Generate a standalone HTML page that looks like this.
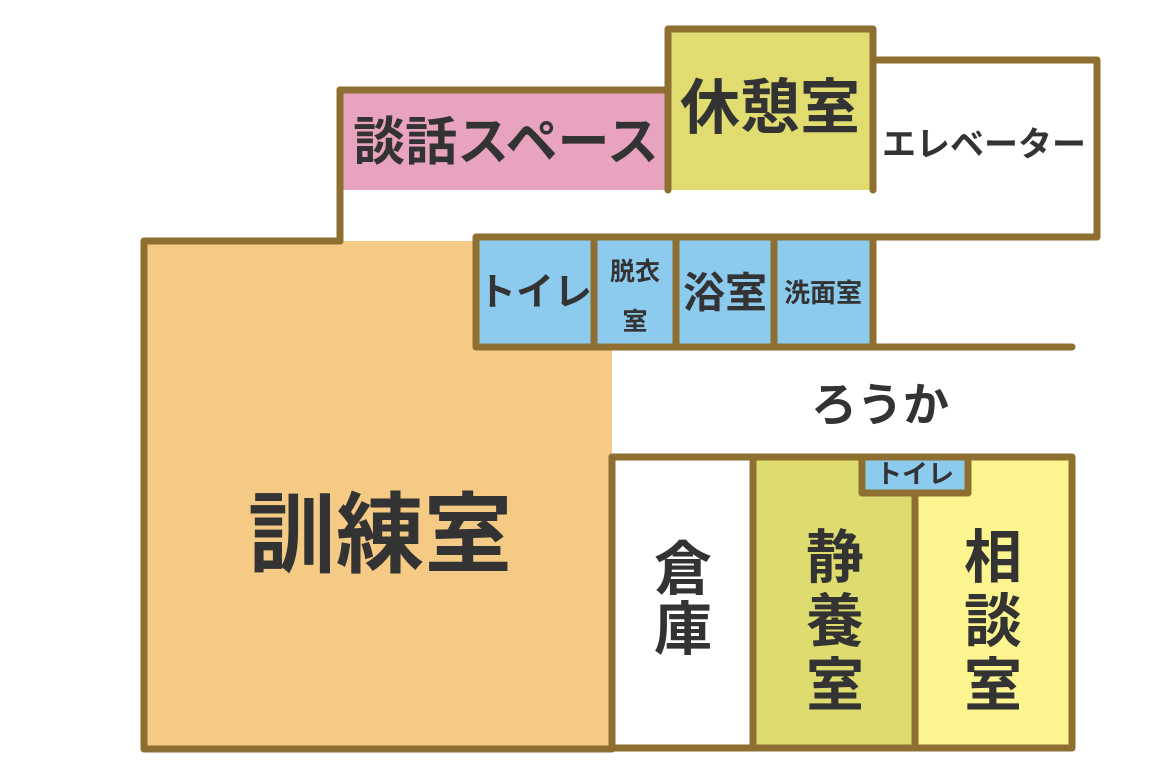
<!DOCTYPE html>
<html><head><meta charset="utf-8"><style>
html,body{margin:0;padding:0;background:#fff;}
svg{display:block}
text{font-family:"Liberation Sans","Noto Sans CJK JP",sans-serif;fill:#333;font-weight:bold;text-anchor:middle;dominant-baseline:central}
</style></head><body>
<svg width="1164" height="776" viewBox="0 0 1164 776" xmlns="http://www.w3.org/2000/svg">
<g stroke="#8e6f31" stroke-width="7" stroke-linejoin="round" stroke-linecap="round">
<rect x="144" y="241" width="468" height="508" fill="#f4ca84" stroke="none"/>
<path d="M612 457 L612 749 L144 749 L144 241 L340 241 L340 90 L668 90" fill="none"/>
<rect x="340" y="90" width="328" height="100" fill="#e8a3be" stroke="none"/>
<path d="M340 90 L668 90 M340 90 L340 241" fill="none"/>
<path d="M873 60 L1097 60 L1097 237 L873 237" fill="#fff"/>
<path d="M668 190 L668 29 L873 29 L873 190" fill="#e0dc70"/>
<rect x="476" y="237" width="397" height="110" fill="#8ccbee"/>
<path d="M594 237 V347 M676 237 V347 M774 237 V347 M873 347 H1072" fill="none"/>
<rect x="612" y="457" width="141" height="291" fill="#fff"/>
<rect x="753" y="457" width="162" height="291" fill="#dedc6f"/>
<rect x="915" y="457" width="157" height="291" fill="#fcf48f"/>
<rect x="862" y="457" width="106" height="36" fill="#8ccbee"/>
</g>
<text x="506" y="143" font-size="52">談話スペース</text>
<text x="770" y="108" font-size="60">休憩室</text>
<text x="984" y="145" font-size="34">エレベーター</text>
<text x="535" y="293" font-size="38">トイレ</text>
<text x="635" y="272" font-size="25">脱衣</text>
<text x="635" y="322" font-size="25">室</text>
<text x="725" y="293" font-size="42">浴室</text>
<text x="823" y="293" font-size="26">洗面室</text>
<text x="880" y="405" font-size="46">ろうか</text>
<text x="380" y="535" font-size="88">訓練室</text>
<text x="683" y="570" font-size="58">倉</text>
<text x="683" y="630" font-size="58">庫</text>
<text x="835" y="558" font-size="58">静</text>
<text x="835" y="622" font-size="58">養</text>
<text x="835" y="686" font-size="58">室</text>
<text x="993" y="558" font-size="58">相</text>
<text x="993" y="622" font-size="58">談</text>
<text x="993" y="686" font-size="58">室</text>
<text x="915" y="474" font-size="26">トイレ</text>
</svg>
</body></html>
